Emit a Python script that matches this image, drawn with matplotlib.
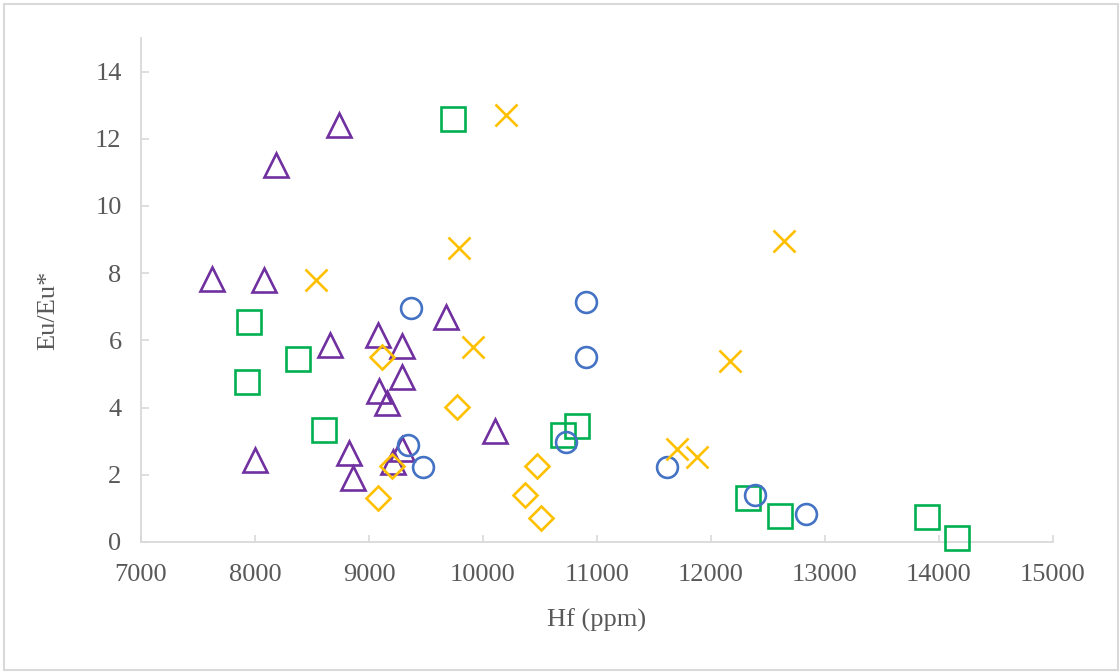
"""
Eu/Eu* vs Hf scatter, recreated with matplotlib.
"""
import matplotlib
matplotlib.use("Agg")
import matplotlib.pyplot as plt
from matplotlib.patches import Rectangle

# --- data ---
tri_hf = [7626, 8079, 8184, 8739, 8000, 8658, 9082, 9287, 9287, 9091,
          9155, 9675, 10105, 8827, 8856, 9287, 9213]
tri_eu = [7.82, 7.80, 11.23, 12.42, 2.44, 5.87, 6.17, 5.82, 4.91, 4.48,
          4.13, 6.69, 3.29, 2.66, 1.90, 2.76, 2.39]

sq_hf = [9734, 7950, 8380, 7927, 8605, 10705, 10827, 12322, 12608, 13895, 14155]
sq_eu = [12.59, 6.54, 5.45, 4.75, 3.34, 3.17, 3.46, 1.32, 0.78, 0.73, 0.13]

circ_hf = [9368, 10904, 10904, 9345, 9477, 10725, 11611, 12386, 12833]
circ_eu = [6.96, 7.13, 5.50, 2.89, 2.24, 2.97, 2.24, 1.40, 0.82]

dia_hf = [9117, 9769, 9199, 9082, 10471, 10368, 10509]
dia_eu = [5.52, 4.03, 2.26, 1.30, 2.26, 1.40, 0.71]

x_hf = [10199, 9792, 8532, 9914, 11699, 11874, 12644, 12164]
x_eu = [12.72, 8.75, 7.80, 5.79, 2.76, 2.54, 8.97, 5.38]

x_ticks = [7000, 8000, 9000, 10000, 11000, 12000, 13000, 14000, 15000]
y_ticks = [0, 2, 4, 6, 8, 10, 12, 14]

W, H = 1120, 672
plt.rcParams['font.family'] = ['Liberation Serif', 'DejaVu Serif']
text_col = '#595959'
axis_col = '#D9D9D9'

fig = plt.figure(figsize=(W / 100, H / 100), dpi=100)
ax = fig.add_axes([141 / W, 1 - 542 / H, (1053 - 141) / W, (542 - 38) / H])

lw = 1.9
ax.plot(tri_hf, tri_eu, '^', ms=17.5, mfc='none', mec='#7030A0', mew=lw, ls='none', clip_on=False)
ax.plot(sq_hf, sq_eu, 's', ms=17, mfc='none', mec='#00B050', mew=lw, ls='none', clip_on=False)
ax.plot(circ_hf, circ_eu, 'o', ms=15, mfc='none', mec='#4472C4', mew=lw, ls='none', clip_on=False)
ax.plot(dia_hf, dia_eu, 'D', ms=12, mfc='none', mec='#FFC000', mew=lw, ls='none', clip_on=False)
ax.plot(x_hf, x_eu, 'x', ms=16, mec='#FFC000', mew=lw, ls='none', clip_on=False)

ax.set_xlim(7000, 15000)
ax.set_ylim(0, 15)
ax.set_xticks(x_ticks)
ax.set_yticks(y_ticks)
for s in ['top', 'right']:
    ax.spines[s].set_visible(False)
for s in ['left', 'bottom']:
    ax.spines[s].set_color(axis_col)
    ax.spines[s].set_linewidth(1.3)
    ax.spines[s].set_zorder(0)
ax.tick_params(axis='x', direction='in', length=5, width=1.2, color=axis_col,
               labelsize=19, labelcolor=text_col, pad=16)
ax.tick_params(axis='y', direction='in', length=6, width=1.2, color=axis_col,
               labelsize=19, labelcolor=text_col, pad=14)

fig.text(597 / W, 1 - 620 / H, 'Hf (ppm)', ha='center', va='center',
         fontsize=19, color=text_col)
fig.text(48 / W, 1 - 310 / H, 'Eu/Eu*', ha='center', va='center',
         rotation=90, fontsize=19, color=text_col)

# light grey frame around the chart area
fig.patches.append(Rectangle((4 / W, 2 / H), 1114 / W, 666 / H, transform=fig.transFigure,
                             fill=False, edgecolor=axis_col, linewidth=1.5))

fig.savefig('out.png', dpi=100)
